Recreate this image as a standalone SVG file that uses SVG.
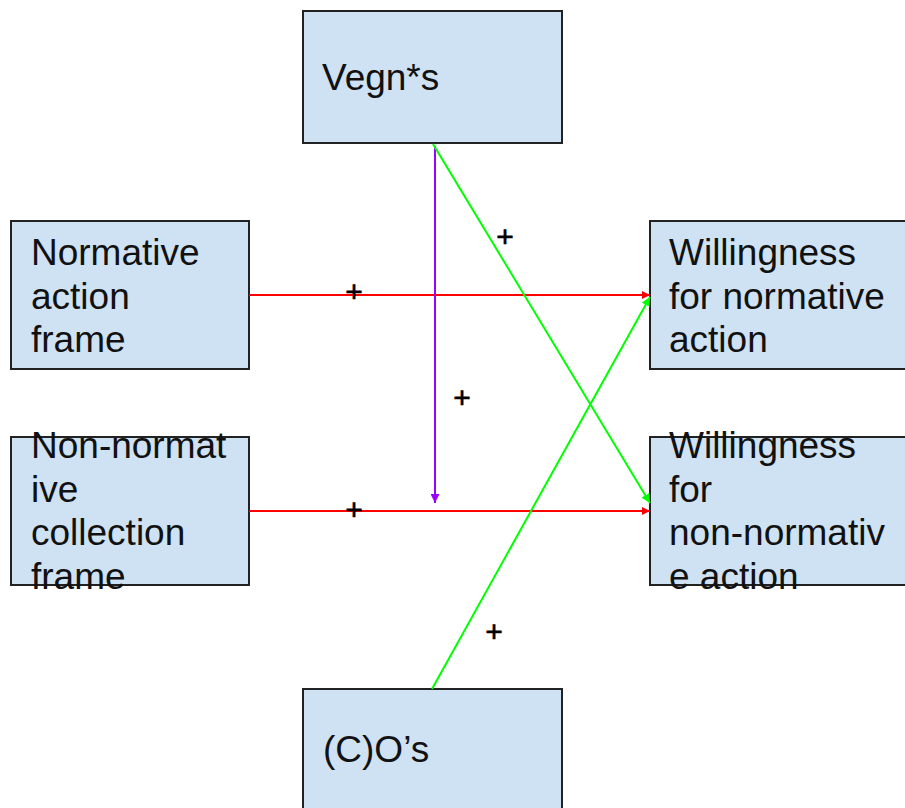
<svg xmlns="http://www.w3.org/2000/svg" width="905" height="808" viewBox="0 0 905 808">
<defs>
<style>
.box{fill:#cfe2f3;stroke:#222;stroke-width:2}
.t{font-family:"Liberation Sans",Arial,sans-serif;font-size:37px;fill:#111}
.pl{font-family:"Liberation Sans",Arial,sans-serif;font-size:30px;fill:#000;stroke:#000;stroke-width:0.6}
.red{stroke:#ff0000;stroke-width:2;fill:none}
.grn{stroke:#00ff00;stroke-width:2;fill:none}
.pur{stroke:#9900ff;stroke-width:2;fill:none}
</style>
<marker id="ar" viewBox="0 0 10 10" refX="10" refY="5" markerWidth="8" markerHeight="8" orient="auto" markerUnits="userSpaceOnUse"><path d="M0,0 L10,5 L0,10 z" fill="#ff0000"/></marker>
<marker id="ag" viewBox="0 0 10 10" refX="10" refY="5" markerWidth="9" markerHeight="9" orient="auto" markerUnits="userSpaceOnUse"><path d="M0,0 L10,5 L0,10 z" fill="#00ff00"/></marker>
<marker id="ap" viewBox="0 0 10 10" refX="10" refY="5" markerWidth="9" markerHeight="9" orient="auto" markerUnits="userSpaceOnUse"><path d="M0,0 L10,5 L0,10 z" fill="#9900ff"/></marker>
</defs>
<rect width="905" height="808" fill="#fff"/>
<g id="vegns"><rect class="box" x="303" y="11" width="259" height="132"/><text class="t" x="322" y="90">Vegn*s</text></g>
<g id="normative-frame"><rect class="box" x="11" y="221" width="238" height="148"/><text class="t" x="31" y="265">Normative</text><text class="t" x="31" y="308.5">action</text><text class="t" x="31" y="352">frame</text></g>
<g id="non-normative-frame"><rect class="box" x="11" y="437" width="238" height="148"/><text class="t" x="31" y="458">Non-normat</text><text class="t" x="31" y="501.5">ive</text><text class="t" x="31" y="545">collection</text><text class="t" x="31" y="588.5">frame</text></g>
<g id="will-normative"><rect class="box" x="650" y="221" width="265" height="148"/><text class="t" x="669" y="265">Willingness</text><text class="t" x="669" y="308.5">for normative</text><text class="t" x="669" y="352">action</text></g>
<g id="will-non-normative"><rect class="box" x="650" y="437" width="265" height="148"/><text class="t" x="669" y="458">Willingness</text><text class="t" x="669" y="501.5">for</text><text class="t" x="669" y="545">non-normativ</text><text class="t" x="669" y="588.5">e action</text></g>
<g id="cos"><rect class="box" x="303" y="689" width="259" height="130"/><text class="t" x="323" y="762">(C)O’s</text></g>
<g id="connectors">
<line class="red" x1="249" y1="295" x2="650" y2="295" marker-end="url(#ar)"/>
<line class="red" x1="249" y1="511" x2="650" y2="511" marker-end="url(#ar)"/>
<line class="pur" x1="435" y1="146" x2="435" y2="503" marker-end="url(#ap)"/>
<line class="grn" x1="433" y1="144" x2="650" y2="503" marker-end="url(#ag)"/>
<line class="grn" x1="432" y1="689" x2="650" y2="297" marker-end="url(#ag)"/>
<text class="pl" x="505" y="247" text-anchor="middle">+</text>
<text class="pl" x="354" y="302" text-anchor="middle">+</text>
<text class="pl" x="462" y="408" text-anchor="middle">+</text>
<text class="pl" x="354" y="520" text-anchor="middle">+</text>
<text class="pl" x="494" y="642" text-anchor="middle">+</text>
</g>
</svg>
